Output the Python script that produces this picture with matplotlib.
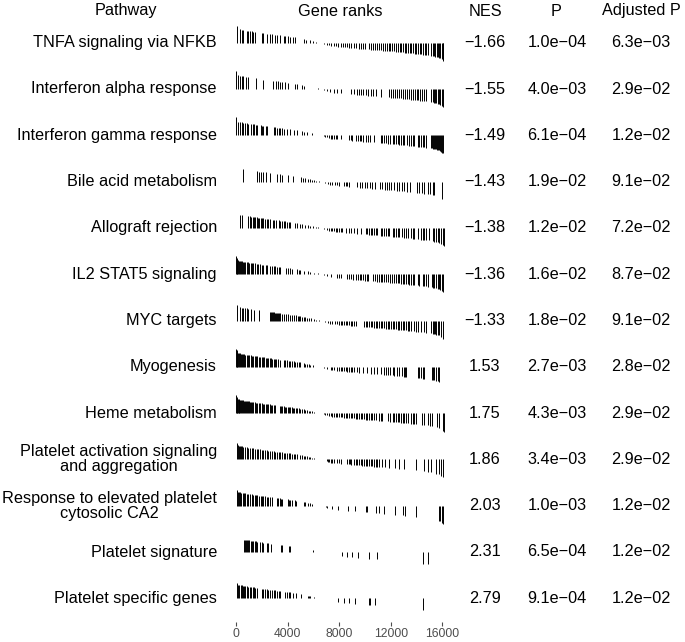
import numpy as np
import matplotlib
matplotlib.use('Agg')
import matplotlib.pyplot as plt

plt.rcParams['font.family'] = ['Liberation Sans', 'DejaVu Sans']

pathways = ['TNFA signaling via NFKB', 'Interferon alpha response', 'Interferon gamma response',
            'Bile acid metabolism', 'Allograft rejection', 'IL2 STAT5 signaling', 'MYC targets',
            'Myogenesis', 'Heme metabolism', 'Platelet activation signaling\nand aggregation',
            'Response to elevated platelet\ncytosolic CA2', 'Platelet signature', 'Platelet specific genes']
nes = [-1.66, -1.55, -1.49, -1.43, -1.38, -1.36, -1.33, 1.53, 1.75, 1.86, 2.03, 2.31, 2.79]
pval = [1.0e-04, 4.0e-03, 6.1e-04, 1.9e-02, 1.2e-02, 1.6e-02, 1.8e-02, 2.7e-03, 4.3e-03, 3.4e-03,
        1.0e-03, 6.5e-04, 9.1e-04]
padj = [6.3e-03, 2.9e-02, 1.2e-02, 9.1e-02, 7.2e-02, 8.7e-02, 9.1e-02, 2.8e-02, 2.9e-02, 2.9e-02,
        1.2e-02, 1.2e-02, 1.2e-02]

n_genes = 16200
rank_ticks = [0, 4000, 8000, 12000, 16000]

# ranked statistic (scaled to max 1) read along the rank axis
stat_rank = [0, 150, 600, 2100, 2900, 4700, 6000, 6600, 7300, 9900, 12500, 14000, 15100, 15800, 16100]
stat_value = [0.77, 0.60, 0.54, 0.41, 0.35, 0.22, 0.07, 0.0, -0.14, -0.27, -0.39, -0.48, -0.55, -0.65, -0.80]

# gene positions of each pathway in the ranked list
ranks_tnfa = [50, 310, 440, 570, 830, 960, 1090, 1220, 1350, 1480, 2000, 2130, 2390, 2650, 2780, 3040,
              3170, 3430, 3690, 3820, 4000, 4210, 4390, 4600, 5300, 5460, 5770, 5980, 6190, 6600, 6810,
              7020, 7200, 7380, 7590, 7750, 7900, 8110, 8270, 8420, 8630, 8790, 8940, 9150, 9310, 9520,
              9720, 9880, 10040, 10320, 10480, 10630, 10790, 10920, 11080, 11230, 11390, 11540, 11700,
              11830, 11960, 12120, 12270, 12400, 12530, 12690, 12820, 12950, 13080, 13210, 13340, 13470,
              13600, 13730, 13860, 13990, 14120, 14250, 14380, 14510, 14640, 14770, 14900, 15130, 15240,
              15340, 15470, 15570, 15680, 15780, 15860, 15940, 16020, 16090]
ranks_ifna = [0, 180, 310, 440, 570, 780, 960, 1560, 2130, 2860, 3120, 3220, 3380, 3560, 3820, 4000,
              4600, 4730, 5120, 5300, 6340, 6500, 6680, 6860, 7070, 7280, 7590, 7850, 8110, 8940, 9150,
              9360, 9570, 9720, 9880, 10060, 10240, 10450, 10660, 10870, 11230, 11880, 12010, 12170,
              12320, 12480, 12640, 12790, 12950, 13100, 13260, 13420, 13570, 13730, 13880, 14040, 14140,
              14300, 14460, 14610, 14740, 15130, 15240, 15340, 15440, 15550, 15650, 15760, 15860, 15960,
              16070]
ranks_ifng = [0, 180, 310, 440, 570, 700, 830, 960, 1140, 1300, 1400, 1560, 1660, 1920, 2030, 2130,
              2290, 2390, 2910, 3040, 3170, 3300, 3430, 3560, 3690, 3950, 4210, 4520, 4730, 5120, 5300,
              5510, 5900, 6420, 6550, 6810, 6940, 7070, 7200, 7330, 7460, 7590, 7720, 7850, 8110, 8760,
              8890, 9020, 9280, 9460, 9620, 9720, 9880, 10060, 10240, 10400, 10710, 11230, 11360, 11490,
              11650, 11800, 11960, 12140, 12270, 12400, 12530, 12660, 12790, 12950, 13050, 13260, 13440,
              13570, 13700, 13830, 14090, 14220, 14350, 14480, 14610, 14740, 15130, 15210, 15290, 15370,
              15440, 15520, 15600, 15680, 15760, 15830, 15910, 15990, 16070]
ranks_bile = [570, 1660, 1820, 1920, 2080, 2290, 2600, 3170, 3380, 3560, 4000, 4420, 5040, 5200, 5380,
              5560, 5720, 5880, 6030, 6240, 6400, 6760, 6940, 7120, 7280, 7460, 7640, 7800, 7980, 8370,
              8500, 8630, 8760, 9410, 9620, 9800, 9980, 10190, 10400, 10580, 10760, 11180, 11360, 11540,
              11700, 11880, 12060, 12270, 12480, 12660, 12840, 13050, 13260, 13520, 14040, 14220, 14400,
              14560, 14920, 15080, 15240, 15340, 15990]
ranks_allo = [310, 470, 960, 1090, 1200, 1300, 1400, 1510, 1610, 1720, 1820, 1920, 2030, 2130, 2260,
              2390, 2520, 2650, 2860, 2960, 3120, 3300, 3430, 3560, 3690, 3820, 3950, 4080, 4210, 4600,
              4730, 4990, 5120, 5380, 5560, 5770, 5980, 6190, 6340, 6550, 6810, 7020, 7200, 7330, 7460,
              7590, 7720, 7850, 7980, 8110, 8240, 8500, 8760, 8940, 9150, 9360, 9670, 10060, 10190, 10320,
              10450, 10580, 10710, 10840, 10970, 11230, 11360, 11490, 11620, 11750, 11880, 12140, 12270,
              12400, 12530, 12660, 12840, 13050, 13180, 13310, 13570, 13700, 13830, 14090, 14350, 14480,
              14610, 14740, 15000, 15260, 15390, 15520, 15650, 15780, 15910, 16020, 16100]
ranks_il2 = [0, 50, 100, 180, 260, 340, 420, 490, 570, 650, 730, 830, 940, 1040, 1140, 1250, 1350, 1480,
             1610, 1740, 1870, 2000, 2130, 2340, 2440, 2600, 2760, 2910, 3040, 3170, 3300, 3430, 3900,
             4000, 4160, 4340, 4730, 4860, 4990, 5250, 5560, 5720, 6030, 6340, 6550, 6810, 7070, 7330,
             7800, 7980, 8110, 8630, 8760, 8890, 9100, 9280, 9460, 9620, 9720, 9880, 10010, 10140, 10240,
             10610, 10760, 10920, 11080, 11230, 11360, 11490, 11620, 11750, 11960, 12120, 12270, 12400,
             12530, 12660, 12790, 12920, 13050, 13180, 13310, 13440, 13570, 13700, 13830, 14090, 14220,
             14480, 14610, 14740, 14870, 15180, 15290, 15390, 15520, 15650, 15760, 15860, 15960, 16070]
ranks_myc = [100, 310, 470, 570, 680, 830, 960, 1140, 1400, 1820, 2650, 2730, 2810, 2890, 2960, 3040,
             3120, 3200, 3280, 3350, 3430, 3560, 3690, 3900, 4000, 4160, 4340, 4470, 4680, 4780, 4890,
             4990, 5120, 5250, 5380, 5510, 5640, 5820, 6030, 6240, 6420, 6600, 6760, 6940, 7120, 7280,
             7460, 7640, 7850, 7980, 8110, 8240, 8370, 8500, 8630, 8760, 8890, 9020, 9150, 9280, 9930,
             10060, 10190, 10320, 10450, 10580, 10710, 10840, 10970, 11100, 11230, 11360, 11490, 11620,
             11750, 11880, 12010, 12140, 12270, 12400, 12530, 12660, 12790, 12920, 13050, 13180, 13310,
             13440, 13570, 13780, 13990, 14140, 14350, 14560, 14740, 15130, 15240, 15340, 15440, 15550,
             15650, 15760, 15910, 16070]
ranks_myo = [0, 50, 100, 180, 260, 340, 420, 490, 570, 650, 730, 830, 940, 1040, 1140, 1250, 1350, 1460,
             1560, 1660, 1770, 1870, 1980, 2080, 2180, 2290, 2390, 2500, 2600, 2700, 2810, 2910, 3020,
             3120, 3220, 3380, 3690, 3820, 3950, 4080, 4210, 4340, 4470, 4600, 4730, 4860, 4990, 5250,
             5380, 5510, 5640, 5770, 5980, 6680, 6860, 7070, 7330, 7460, 7590, 7800, 7980, 8110, 8240,
             8370, 8500, 8630, 8760, 8890, 9020, 9150, 9360, 9540, 9880, 10140, 10450, 10710, 10970,
             11230, 11440, 11620, 11750, 11960, 12140, 12270, 12480, 12660, 12840, 13000, 13100, 13180,
             14090, 14220, 14350, 14480, 14560, 15180, 15290, 15390, 15520, 15650, 15780]
ranks_heme = [0, 50, 100, 160, 210, 260, 310, 390, 470, 550, 620, 700, 780, 860, 940, 1010, 1090, 1170,
              1250, 1350, 1460, 1560, 1660, 1770, 1870, 1980, 2080, 2180, 2290, 2390, 2500, 2600, 2700,
              2810, 2910, 3040, 3380, 3480, 3590, 3690, 3800, 3900, 4000, 4110, 4210, 4320, 4420, 4520,
              4630, 4730, 4860, 4990, 5120, 5250, 5380, 5510, 5640, 5770, 5900, 6030, 6420, 6680, 6810,
              6940, 7070, 7200, 7330, 7460, 7590, 7720, 7850, 7980, 8110, 8240, 8370, 8500, 8630, 8760,
              8890, 9020, 9150, 9280, 9410, 9540, 9670, 9800, 9930, 10060, 10190, 10320, 10450, 10580,
              10710, 10840, 11100, 11230, 11360, 11800, 11960, 12140, 12270, 12400, 12530, 12660, 12790,
              12920, 13050, 13180, 13310, 13570, 13700, 13830, 13960, 14400, 14560, 14870, 15080, 15180,
              15600, 15780, 16040, 16100]
ranks_plt_act = [50, 130, 210, 310, 390, 470, 570, 700, 830, 960, 1090, 1220, 1350, 1480, 1610, 1740,
                 1870, 2000, 2130, 2260, 2390, 2520, 2650, 2780, 2910, 3040, 3170, 3300, 3430, 3560,
                 3690, 3820, 3950, 4080, 4210, 4340, 4470, 4600, 4730, 4990, 5120, 5250, 5380, 5510,
                 5640, 5770, 5900, 6030, 6340, 7020, 7120, 7230, 7330, 7460, 7590, 7800, 7980, 8110,
                 8630, 8740, 8840, 8940, 9150, 9280, 9410, 9540, 9670, 9800, 9930, 10060, 10190, 10320,
                 10450, 10580, 10710, 10840, 10970, 11100, 11360, 11540, 11880, 12320, 12660, 13000,
                 13960, 14560, 14870, 15130, 15520, 15780, 15910, 16040]
ranks_resp = [100, 180, 260, 340, 420, 520, 620, 730, 830, 960, 1090, 1220, 1350, 1460, 1560, 1660,
              1820, 1920, 2030, 2130, 2260, 2390, 2520, 2650, 2780, 3170, 3280, 3380, 3480, 3560, 4000,
              4110, 4210, 4340, 4600, 4680, 5250, 5360, 5620, 5720, 5880, 6970, 7070, 7460, 7900, 8680,
              9200, 10090, 10190, 10840, 11100, 11490, 12320, 12920, 13080, 13960, 15760, 15860, 15960,
              16090]
ranks_plt_sig = [620, 700, 780, 880, 960, 1040, 1140, 1220, 1350, 1460, 1560, 1660, 1870, 2000, 2130,
                 2440, 2520, 2700, 3480, 3560, 4080, 4160, 5980, 6550, 8240, 8630, 9020, 9460, 10320,
                 10920, 14480, 14870]
ranks_plt_spec = [100, 180, 260, 360, 440, 520, 620, 730, 830, 960, 1090, 1200, 1300, 1400, 1510, 1610,
                  2000, 2130, 2260, 2390, 2520, 2650, 2780, 2910, 3040, 3170, 3300, 3430, 3820, 3950,
                  4080, 4210, 4420, 4680, 5040, 5560, 5640, 5770, 6030, 6340, 6500, 7900, 8370, 8760,
                  9200, 10320, 10400, 10760, 14480]

gene_ranks = [ranks_tnfa, ranks_ifna, ranks_ifng, ranks_bile, ranks_allo, ranks_il2, ranks_myc,
              ranks_myo, ranks_heme, ranks_plt_act, ranks_resp, ranks_plt_sig, ranks_plt_spec]

W, H = 685, 642
fig = plt.figure(figsize=(W / 100, H / 100), dpi=100)

# layout in pixels: first row centre and row spacing
row0_px, row_px = 42.7, 46.3
top_px, bottom_px = 19.5, 622
y_lo = (top_px - row0_px) / row_px
y_hi = (bottom_px - row0_px) / row_px
px_per_rank = 206.3 / 16000
left_px = 236

ax = fig.add_axes([left_px / W, 1 - bottom_px / H, n_genes * px_per_rank / W, (bottom_px - top_px) / H])
for i, r in enumerate(gene_ranks):
    r = np.array(r)
    s = np.interp(r, stat_rank, stat_value)
    ax.vlines(r, i, i - 0.5 * s, color='black', lw=0.7)
ax.set_xlim(0, n_genes)
ax.set_ylim(y_hi, y_lo)
ax.set_xticks(rank_ticks)
ax.set_xticklabels([str(t) for t in rank_ticks])
ax.set_yticks([])
for sp in ax.spines.values():
    sp.set_visible(False)
ax.tick_params(axis='x', length=3, width=0.8, color='#4d4d4d', labelcolor='#4d4d4d',
               labelsize=8.7, pad=1.0)

# table text
tab = fig.add_axes([0, 1 - bottom_px / H, 1, (bottom_px - top_px) / H], zorder=-1)
tab.set_xlim(0, W)
tab.set_ylim(y_hi, y_lo)
tab.axis('off')

fs = 11.7
header_y = (11 - row0_px) / row_px
tab.text(126, header_y, 'Pathway', ha='center', va='center', fontsize=fs, clip_on=False)
tab.text(340, header_y, 'Gene ranks', ha='center', va='center', fontsize=fs, clip_on=False)
tab.text(485, header_y, 'NES', ha='center', va='center', fontsize=fs, clip_on=False)
tab.text(556, header_y, 'P', ha='center', va='center', fontsize=fs, clip_on=False)
tab.text(641, header_y, 'Adjusted P', ha='center', va='center', fontsize=fs, clip_on=False)

def fmt_e(v):
    return ('%.1e' % v).replace('-', '\u2212')

for i in range(len(pathways)):
    tab.text(217, i, pathways[i], ha='right', va='center', multialignment='center',
             fontsize=fs, linespacing=1.0)
    tab.text(485, i, ('%.2f' % nes[i]).replace('-', '\u2212'), ha='center', va='center', fontsize=fs)
    tab.text(557, i, fmt_e(pval[i]), ha='center', va='center', fontsize=fs)
    tab.text(641, i, fmt_e(padj[i]), ha='center', va='center', fontsize=fs)

fig.savefig('out.png', dpi=100)
plt.close()
